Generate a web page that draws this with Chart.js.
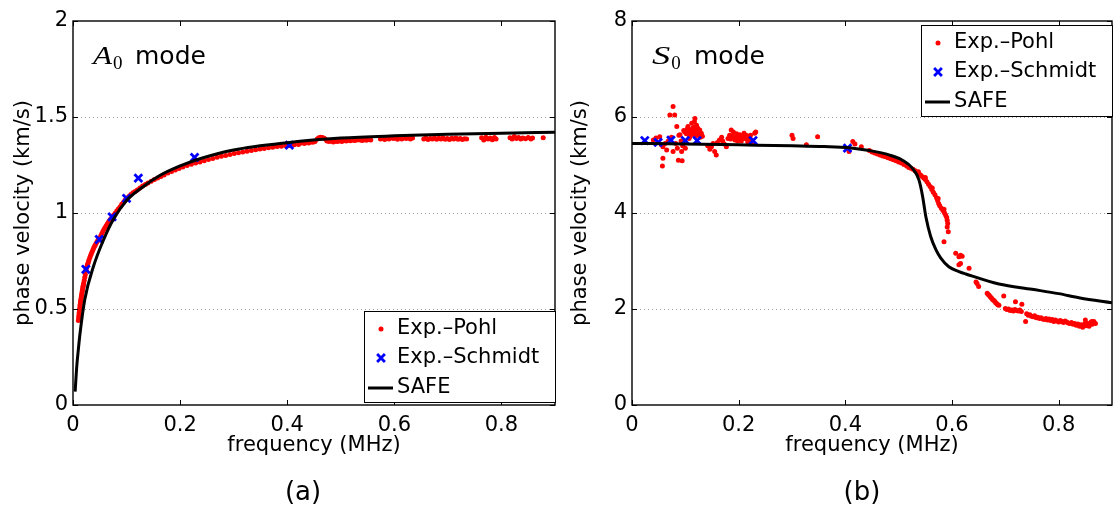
<!DOCTYPE html>
<html>
<head>
<meta charset="utf-8">
<script src="https://cdn.jsdelivr.net/npm/chart.js"></script>
<style>
  html, body { margin: 0; padding: 0; background: #fff; }
  #wrap { position: relative; width: 1114px; height: 511px; }
  #wrap canvas { position: absolute; top: 0; }
</style>
</head>
<body>
<div id="wrap">
  <canvas id="chartA0" width="557" height="511" style="left:0"></canvas>
  <canvas id="chartS0" width="557" height="511" style="left:557px"></canvas>
</div>
<script>
// tick labels
const xTickVals = [0, 0.2, 0.4, 0.6, 0.8];
const yTicksA0 = [0, 0.5, 1, 1.5, 2];
const yTicksS0 = [0, 2, 4, 6, 8];

// SAFE dispersion curves (MHz, km/s)
const freqSafeA0 = [0.004, 0.007, 0.010, 0.013, 0.022, 0.038, 0.057, 0.075, 0.100, 0.131, 0.162, 0.2, 0.24, 0.3, 0.4, 0.5, 0.6, 0.7, 0.8, 0.9];
const velSafeA0 = [0.07, 0.20, 0.29, 0.37, 0.55, 0.72, 0.86, 0.965, 1.065, 1.137, 1.195, 1.245, 1.285, 1.328, 1.366, 1.39, 1.402, 1.41, 1.416, 1.42];
const freqSafeS0 = [0, 0.1, 0.2, 0.3, 0.36, 0.407, 0.445, 0.482, 0.507, 0.526, 0.538, 0.545, 0.551, 0.560, 0.570, 0.579, 0.594, 0.613, 0.626, 0.688, 0.75, 0.8, 0.84, 0.9];
const velSafeS0 = [5.45, 5.44, 5.42, 5.40, 5.385, 5.36, 5.30, 5.21, 5.10, 4.93, 4.69, 4.34, 3.92, 3.51, 3.23, 3.06, 2.88, 2.78, 2.73, 2.52, 2.41, 2.32, 2.23, 2.13];

// Schmidt measurements
const freqSchmidt = [0.024, 0.049, 0.073, 0.100, 0.122, 0.227, 0.404];
const velSchmidtA0 = [0.707, 0.862, 0.98, 1.076, 1.182, 1.29, 1.354];
const velSchmidtS0 = [5.51, 5.47, 5.52, 5.51, 5.51, 5.51, 5.35];

// Pohl measurements, A0
const freqPohlA0 = [
  0.0100, 0.0105, 0.0110, 0.0115, 0.0120, 0.0125, 0.0130, 0.0135, 0.0140, 0.0145, 0.0150, 0.0155, 0.0160, 0.0165,
  0.0170, 0.0175, 0.0180, 0.0185, 0.0190, 0.0195, 0.0200, 0.0210, 0.0220, 0.0230, 0.0240, 0.0250, 0.0260, 0.0270,
  0.0280, 0.0290, 0.0300, 0.0315, 0.0330, 0.0345, 0.0360, 0.0375, 0.0390, 0.0405, 0.0420, 0.0440, 0.0460, 0.0480,
  0.0500, 0.0520, 0.0540, 0.0560, 0.0580, 0.0600, 0.0620, 0.0640, 0.0660, 0.0680, 0.0700, 0.0730, 0.0760, 0.0790,
  0.0820, 0.0850, 0.0880, 0.0910, 0.0940, 0.0970, 0.1000, 0.1040, 0.1080, 0.1120, 0.1160, 0.1200, 0.1250, 0.1300,
  0.1350, 0.1400, 0.1460, 0.1520, 0.1580, 0.1640, 0.1700, 0.1770, 0.1840, 0.1910, 0.1980, 0.2050, 0.2130, 0.2210,
  0.2290, 0.2370, 0.2450,
  0.253, 0.261, 0.269, 0.277, 0.285, 0.293, 0.301, 0.309, 0.317, 0.325, 0.333, 0.341, 0.349, 0.357, 0.365, 0.373,
  0.381, 0.389, 0.397, 0.405, 0.413, 0.421,
  0.424, 0.428, 0.432, 0.436, 0.440, 0.444, 0.448, 0.452, 0.456, 0.459, 0.462, 0.465, 0.468, 0.471, 0.474,
  0.478, 0.482, 0.486, 0.490, 0.494, 0.498, 0.502, 0.506, 0.510, 0.514, 0.518, 0.522, 0.526, 0.530,
  0.536, 0.540, 0.544, 0.548, 0.552, 0.556,
  0.574, 0.578, 0.582, 0.586, 0.590, 0.594, 0.598, 0.602, 0.606, 0.610, 0.614, 0.618, 0.622, 0.626, 0.630, 0.634,
  0.655, 0.659, 0.663, 0.667, 0.671, 0.675, 0.679, 0.683, 0.687, 0.691, 0.695, 0.699, 0.703, 0.707, 0.711, 0.715,
  0.719, 0.723, 0.727, 0.731, 0.735,
  0.763, 0.767, 0.771, 0.775, 0.779, 0.783, 0.787, 0.790,
  0.816, 0.820, 0.824, 0.828, 0.832, 0.836, 0.840, 0.845, 0.850, 0.855, 0.858, 0.878
];
const velPohlA0 = [
  0.440, 0.455, 0.468, 0.480, 0.492, 0.503, 0.515, 0.525, 0.536, 0.545, 0.554, 0.562, 0.572, 0.580,
  0.589, 0.597, 0.606, 0.614, 0.620, 0.628, 0.636, 0.650, 0.666, 0.680, 0.700, 0.712, 0.720, 0.730,
  0.738, 0.747, 0.756, 0.768, 0.780, 0.790, 0.800, 0.810, 0.820, 0.828, 0.836, 0.846, 0.855, 0.862,
  0.870, 0.882, 0.893, 0.905, 0.915, 0.925, 0.934, 0.943, 0.952, 0.960, 0.968, 0.980, 0.990, 1.000,
  1.012, 1.022, 1.033, 1.045, 1.055, 1.066, 1.076, 1.086, 1.096, 1.105, 1.112, 1.120, 1.130, 1.140,
  1.148, 1.156, 1.166, 1.174, 1.182, 1.190, 1.198, 1.208, 1.216, 1.224, 1.232, 1.240, 1.247, 1.254,
  1.260, 1.266, 1.272,
  1.278, 1.284, 1.290, 1.295, 1.300, 1.305, 1.310, 1.314, 1.318, 1.322, 1.326, 1.330, 1.333, 1.336, 1.340, 1.343,
  1.346, 1.348, 1.350, 1.352, 1.355, 1.357,
  1.363, 1.366, 1.362, 1.368, 1.365, 1.370, 1.368, 1.372, 1.385, 1.392, 1.395, 1.393, 1.390, 1.385, 1.375,
  1.372, 1.375, 1.370, 1.374, 1.372, 1.376, 1.373, 1.378, 1.375, 1.379, 1.376, 1.380, 1.377, 1.380,
  1.380, 1.378, 1.382, 1.379, 1.383, 1.380,
  1.385, 1.390, 1.383, 1.392, 1.386, 1.395, 1.388, 1.390, 1.384, 1.392, 1.386, 1.395, 1.388, 1.392, 1.386, 1.390,
  1.385, 1.390, 1.383, 1.388, 1.385, 1.390, 1.384, 1.389, 1.385, 1.390, 1.384, 1.388, 1.383, 1.389, 1.386, 1.390,
  1.384, 1.388, 1.383, 1.387, 1.385,
  1.392, 1.380, 1.395, 1.385, 1.390, 1.382, 1.393, 1.386,
  1.392, 1.385, 1.398, 1.388, 1.393, 1.385, 1.390, 1.387, 1.393, 1.386, 1.390, 1.392
];

// Pohl measurements, S0
const freqPohlS0 = [
  0.040, 0.045, 0.052, 0.055, 0.057, 0.058, 0.058, 0.062, 0.065, 0.068, 0.071, 0.074, 0.077, 0.077, 0.080,
  0.082, 0.084, 0.085, 0.087, 0.088, 0.090, 0.092, 0.093, 0.094, 0.095, 0.097, 0.099, 0.100, 0.102, 0.104,
  0.105, 0.107, 0.108, 0.109, 0.110, 0.112, 0.113, 0.115, 0.117, 0.118, 0.119, 0.120, 0.121, 0.122, 0.124,
  0.125, 0.127, 0.128, 0.130, 0.132, 0.106, 0.111, 0.114, 0.116, 0.123, 0.126,
  0.142, 0.146, 0.149, 0.152, 0.155, 0.158, 0.160, 0.164, 0.168, 0.170, 0.173, 0.177, 0.180, 0.183, 0.186,
  0.188, 0.190, 0.193, 0.196, 0.199, 0.202, 0.205, 0.208, 0.211, 0.214, 0.217, 0.220, 0.223, 0.227, 0.230, 0.232,
  0.185, 0.192, 0.198, 0.204, 0.210, 0.216, 0.222,
  0.300, 0.302, 0.327, 0.348, 0.407, 0.414, 0.418, 0.430,
  0.445, 0.450, 0.455, 0.460, 0.465, 0.470, 0.475, 0.480, 0.485, 0.490, 0.495, 0.500, 0.505, 0.510, 0.515,
  0.519, 0.523, 0.527, 0.531, 0.535, 0.538, 0.541, 0.544, 0.547, 0.550, 0.553, 0.556, 0.559, 0.562, 0.565,
  0.568, 0.571, 0.573, 0.575, 0.577, 0.580, 0.583, 0.586, 0.588, 0.590, 0.591, 0.592, 0.591, 0.593, 0.585,
  0.537, 0.550, 0.563, 0.574, 0.585,
  0.607, 0.613, 0.616, 0.619, 0.613, 0.616, 0.632, 0.645, 0.647, 0.650, 0.666, 0.668, 0.670, 0.672, 0.674,
  0.676, 0.678, 0.680, 0.682, 0.684, 0.686, 0.688, 0.697, 0.700, 0.703, 0.706, 0.709, 0.712, 0.715, 0.718,
  0.721, 0.724, 0.727, 0.730, 0.719, 0.731, 0.738, 0.740, 0.743, 0.746, 0.749, 0.752, 0.755, 0.758, 0.761,
  0.764, 0.767, 0.770, 0.773, 0.776, 0.779, 0.782, 0.785, 0.788, 0.791, 0.794, 0.797, 0.800, 0.803, 0.806,
  0.809, 0.812, 0.815, 0.818, 0.821, 0.824, 0.827, 0.830, 0.833, 0.836, 0.839, 0.842, 0.845, 0.848, 0.851,
  0.854, 0.857, 0.860, 0.863, 0.866, 0.869, 0.850, 0.862
];
const velPohlS0 = [
  5.52, 5.56, 5.59, 5.42, 4.98, 5.14, 5.38, 5.45, 5.31, 5.50, 6.04, 5.58, 6.22, 5.28, 6.04,
  5.45, 5.80, 5.35, 5.10, 5.62, 5.63, 5.50, 5.28, 5.09, 5.40, 5.72, 5.69, 5.35, 5.65, 5.76,
  5.80, 5.55, 5.59, 5.70, 5.62, 5.87, 5.66, 5.78, 5.90, 5.97, 5.60, 5.75, 5.83, 5.68, 5.63,
  5.70, 5.73, 5.58, 5.66, 5.60, 5.68, 5.74, 5.70, 5.65, 5.77, 5.62,
  5.40, 5.33, 5.38, 5.45, 5.28, 5.21, 5.47, 5.52, 5.58, 5.50, 5.44, 5.38, 5.55, 5.62, 5.73,
  5.60, 5.69, 5.52, 5.65, 5.57, 5.63, 5.50, 5.60, 5.55, 5.62, 5.48, 5.58, 5.53, 5.45, 5.66, 5.69,
  5.54, 5.58, 5.50, 5.56, 5.66, 5.54, 5.62,
  5.62, 5.55, 5.42, 5.59, 5.28, 5.49, 5.44, 5.38,
  5.30, 5.27, 5.25, 5.23, 5.21, 5.19, 5.17, 5.15, 5.13, 5.11, 5.09, 5.06, 5.04, 5.01, 4.98,
  4.95, 4.93, 4.91, 4.88, 4.85, 4.82, 4.79, 4.76, 4.73, 4.70, 4.65, 4.60, 4.55, 4.49, 4.43,
  4.38, 4.32, 4.26, 4.20, 4.15, 4.10, 4.05, 4.00, 3.96, 3.91, 3.85, 3.78, 3.71, 3.61, 3.40,
  4.86, 4.74, 4.52, 4.30, 4.08,
  3.16, 3.09, 3.12, 3.10, 2.92, 2.95, 2.85, 2.56, 2.53, 2.47, 2.33, 2.30, 2.28, 2.25, 2.23,
  2.20, 2.18, 2.16, 2.13, 2.11, 2.09, 2.08, 2.27, 2.01, 1.99, 2.00, 1.97, 1.98, 1.96, 1.99,
  1.97, 1.96, 1.98, 1.95, 2.15, 2.10, 1.74, 1.90, 1.87, 1.88, 1.85, 1.84, 1.86, 1.82, 1.83,
  1.80, 1.82, 1.79, 1.78, 1.80, 1.77, 1.79, 1.76, 1.78, 1.74, 1.77, 1.75, 1.73, 1.76, 1.74,
  1.72, 1.75, 1.73, 1.71, 1.70, 1.72, 1.68, 1.70, 1.66, 1.69, 1.64, 1.67, 1.62, 1.68, 1.65,
  1.70, 1.64, 1.72, 1.68, 1.74, 1.70, 1.77, 1.74
];

Chart.defaults.font.family = '"DejaVu Sans", sans-serif';
Chart.defaults.color = '#000';

const pts = (xs, ys) => xs.map((x, i) => ({ x: x, y: ys[i] }));

// frame, inward ticks, dotted grid, mode label, boxed legend and caption
function decorations(letter, caption, legendAtTop) {
  return {
    id: 'decorations',
    beforeDatasetsDraw(chart) {
      const { ctx, chartArea: a, scales: { y } } = chart;
      ctx.save();
      ctx.strokeStyle = '#a0a0a0';
      ctx.lineWidth = 1;
      ctx.setLineDash([1, 3]);
      y.ticks.forEach(t => {
        if (t.value <= y.min || t.value >= y.max) return;
        const py = Math.round(y.getPixelForValue(t.value)) + 0.5;
        ctx.beginPath();
        ctx.moveTo(a.left, py);
        ctx.lineTo(a.right, py);
        ctx.stroke();
      });
      ctx.restore();
    },
    afterDatasetsDraw(chart) {
      const { ctx, chartArea: a, scales: { x, y } } = chart;
      ctx.save();
      ctx.strokeStyle = '#000';
      ctx.lineWidth = 1.4;
      ctx.strokeRect(a.left, a.top, a.right - a.left, a.bottom - a.top);
      ctx.lineWidth = 1;
      ctx.beginPath();
      x.ticks.forEach(t => {
        const px = Math.round(x.getPixelForValue(t.value)) + 0.5;
        ctx.moveTo(px, a.bottom); ctx.lineTo(px, a.bottom - 5);
        ctx.moveTo(px, a.top); ctx.lineTo(px, a.top + 5);
      });
      y.ticks.forEach(t => {
        const py = Math.round(y.getPixelForValue(t.value)) + 0.5;
        ctx.moveTo(a.left, py); ctx.lineTo(a.left + 5, py);
        ctx.moveTo(a.right, py); ctx.lineTo(a.right - 5, py);
      });
      ctx.stroke();

      // mode label: italic letter, subscript 0, then "mode"
      const mx = a.left + 20, mb = a.top + 43;
      ctx.fillStyle = '#000';
      ctx.textAlign = 'left';
      ctx.textBaseline = 'alphabetic';
      ctx.font = 'italic 26px "Liberation Serif"';
      const lw = ctx.measureText(letter).width;
      const sx = Math.min(1.4, 19 / lw);
      ctx.save();
      ctx.translate(mx, mb);
      ctx.scale(sx, 1);
      ctx.fillText(letter, 0, 0);
      ctx.restore();
      ctx.font = '19px "Liberation Serif"';
      ctx.fillText('0', mx + lw * sx + 1, mb + 5);
      ctx.font = '25px "DejaVu Sans"';
      ctx.fillText('mode', mx + 42, mb);

      // legend box
      const w = 191, h = 91;
      const bx = a.right - w;
      const by = legendAtTop ? a.top + 4 : a.bottom - 3 - h;
      ctx.fillStyle = '#fff';
      ctx.fillRect(bx, by, w, h);
      ctx.strokeStyle = '#000';
      ctx.lineWidth = 1;
      ctx.strokeRect(bx + 0.5, by + 0.5, w, h);
      const rows = [18, 47, 77];
      chart.data.datasets.forEach((ds, i) => {
        const ry = by + rows[i];
        const cx = bx + 17;
        ctx.save();
        ctx.fillStyle = ds.backgroundColor;
        ctx.strokeStyle = ds.borderColor;
        ctx.lineWidth = ds.borderWidth;
        ctx.beginPath();
        if (ds.showLine) {
          ctx.moveTo(bx + 4, ry);
          ctx.lineTo(bx + 29, ry);
          ctx.stroke();
        } else if (ds.pointStyle === 'circle') {
          ctx.arc(cx, ry, ds.pointRadius, 0, Math.PI * 2);
          ctx.fill();
        } else {
          const r = ds.pointRadius * Math.SQRT1_2;
          ctx.moveTo(cx - r, ry - r); ctx.lineTo(cx + r, ry + r);
          ctx.moveTo(cx - r, ry + r); ctx.lineTo(cx + r, ry - r);
          ctx.stroke();
        }
        ctx.restore();
        ctx.fillStyle = '#000';
        ctx.font = '21px "DejaVu Sans"';
        ctx.textBaseline = 'middle';
        ctx.fillText(ds.label, bx + 33, ry);
      });

      // caption under the panel
      ctx.font = '26px "DejaVu Sans"';
      ctx.textAlign = 'center';
      ctx.textBaseline = 'alphabetic';
      ctx.fillText(caption, a.left + 230, 500);
      ctx.restore();
    }
  };
}

function panel(canvasId, data, yMax, yTicks, yWidth, letter, caption, legendAtTop) {
  return new Chart(document.getElementById(canvasId).getContext('2d'), {
    type: 'scatter',
    data: {
      datasets: [{
        label: 'Exp.\u2013Pohl',
        data: data.pohl,
        pointStyle: 'circle',
        pointRadius: 2.5,
        borderWidth: 0,
        backgroundColor: '#ff0000',
        borderColor: '#ff0000',
        order: 3
      }, {
        label: 'Exp.\u2013Schmidt',
        data: data.schmidt,
        pointStyle: 'crossRot',
        pointRadius: 5.5,
        borderWidth: 2.8,
        backgroundColor: '#0000ff',
        borderColor: '#0000ff',
        order: 2
      }, {
        label: 'SAFE',
        data: data.safe,
        showLine: true,
        cubicInterpolationMode: 'monotone',
        pointRadius: 0,
        borderWidth: 3,
        borderColor: '#000',
        backgroundColor: '#000',
        order: 1
      }]
    },
    options: {
      responsive: false,
      animation: false,
      events: [],
      layout: { autoPadding: false, padding: { top: 21, right: 2, left: 0, bottom: 0 } },
      plugins: {
        legend: { display: false },
        tooltip: { enabled: false }
      },
      scales: {
        x: {
          type: 'linear',
          min: 0,
          max: 0.9,
          afterBuildTicks: s => { s.ticks = xTickVals.map(v => ({ value: v })); },
          afterFit: s => { s.height = 106; },
          grid: { display: false, drawTicks: false },
          border: { display: false },
          ticks: { padding: 8, font: { size: 21 }, color: '#000', maxRotation: 0, autoSkip: false, callback: v => String(v) },
          title: { display: true, text: 'frequency (MHz)', font: { size: 21 }, color: '#000', padding: { top: 0, bottom: 53 } }
        },
        y: {
          type: 'linear',
          min: 0,
          max: yMax,
          afterBuildTicks: s => { s.ticks = yTicks.map(v => ({ value: v })); },
          afterFit: s => { s.width = yWidth; },
          grid: { display: false, drawTicks: false },
          border: { display: false },
          ticks: { padding: 5, font: { size: 21 }, color: '#000', autoSkip: false, callback: v => String(v) },
          title: { display: true, text: 'phase velocity (km/s)', font: { size: 21 }, color: '#000', padding: { top: 11, bottom: 0 } }
        }
      }
    },
    plugins: [decorations(letter, caption, legendAtTop)]
  });
}

panel('chartA0', {
  pohl: pts(freqPohlA0, velPohlA0),
  schmidt: pts(freqSchmidt, velSchmidtA0),
  safe: pts(freqSafeA0, velSafeA0)
}, 2, yTicksA0, 73, 'A', '(a)', false);

panel('chartS0', {
  pohl: pts(freqPohlS0, velPohlS0),
  schmidt: pts(freqSchmidt, velSchmidtS0),
  safe: pts(freqSafeS0, velSafeS0)
}, 8, yTicksS0, 75, 'S', '(b)', true);
</script>
</body>
</html>
